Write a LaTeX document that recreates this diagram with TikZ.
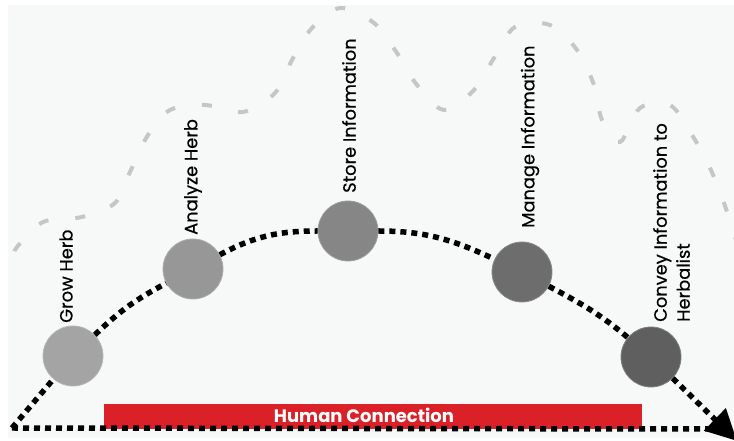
\documentclass[tikz,border=0pt]{standalone}
\usepackage{fontspec}
\setmainfont{Poppins}
\newfontfamily\labfont{Poppins}[FakeBold=0.5]
\usetikzlibrary{arrows.meta}
\definecolor{bg}{HTML}{F7F9F9}
\definecolor{wavegray}{HTML}{C6C6C6}
\definecolor{hcred}{HTML}{DA2128}
\definecolor{cA}{HTML}{A4A4A4}
\definecolor{cB}{HTML}{979797}
\definecolor{cC}{HTML}{868686}
\definecolor{cD}{HTML}{6D6D6D}
\definecolor{cE}{HTML}{5F5F5F}
\begin{document}
\begin{tikzpicture}[x=1pt,y=1pt,
  circ/.style={circle, minimum size=60pt, inner sep=0pt, draw=#1!80!white, line width=0.8pt, fill=#1},
  lab/.style={rotate=90, anchor=west, inner sep=0pt, font=\labfont\fontsize{17.8}{23}\selectfont, text=black, align=left},
  blackdot/.style={draw=black, line width=5.5pt, dash pattern=on 6pt off 5pt},
  wave/.style={draw=wavegray, line width=4pt, dash pattern=on 10pt off 27pt, dash phase=31pt}
]
\useasboundingbox (0,0) rectangle (734,441);
\clip (0,0) rectangle (734,441);
\fill[white] (0,0) rectangle (734,441);
\fill[bg] (8,3) rectangle (734,436);

% grey wave
\draw[wave] plot[smooth, tension=0.55] coordinates {
 (13,184) (17,194) (43,219) (82,224) (115,238) (130,269) (148,306) (170,331)
 (205,336) (243,329) (275,348) (292,381) (312,413) (340,433) (374,418)
 (397,388) (417,356) (444,331) (474,351) (494,383) (515,414) (550,416)
 (577,391) (594,356) (602,321) (620,299) (640,333) (670,336) (692,306)
 (710,273) (724,238) (736,201) (745,170)};

% red bar
\node[fill=hcred, minimum width=538pt, minimum height=25pt, inner sep=0pt] (bar) at (373,24.5) {};
\node[text=white, inner sep=0pt, font=\bfseries\fontsize{18}{18}\selectfont] (hctext) at (364,26) {Human Connection};

% circles
\node[circ=cA] (g) at (73,85) {};
\node[circ=cB] (a) at (193,172) {};
\node[circ=cC] (s) at (348,210) {};
\node[circ=cD] (m) at (522,169) {};
\node[circ=cE] (c) at (651,84) {};

\coordinate (corner) at (12,13);
\coordinate (bend) at (708,12);
\coordinate (tip) at (737,0);

% dotted connectors
\draw[blackdot] (corner) -- (g);
\draw[blackdot] (g) to[out=44,in=208] (a);
\draw[blackdot] (a) to[out=28,in=180] (s);
\draw[blackdot] (s) to[out=0,in=155] (m);
\draw[blackdot] (m) to[out=-28,in=140] (c);
\draw[blackdot] (corner) -- (bend);
\draw[blackdot, -{Triangle[length=31pt,width=30pt]}] (c) -- (tip);

% labels
\node[lab] (lg) at (66,118) {Grow Herb};
\node[lab] (la) at (193,206) {Analyze Herb};
\node[lab] (ls) at (349,248) {Store Information};
\node[lab] (lm) at (530,213) {Manage Information};
\node[lab] (lc) at (671.5,119) {Convey Information to\\Herbalist};
\end{tikzpicture}
\end{document}
